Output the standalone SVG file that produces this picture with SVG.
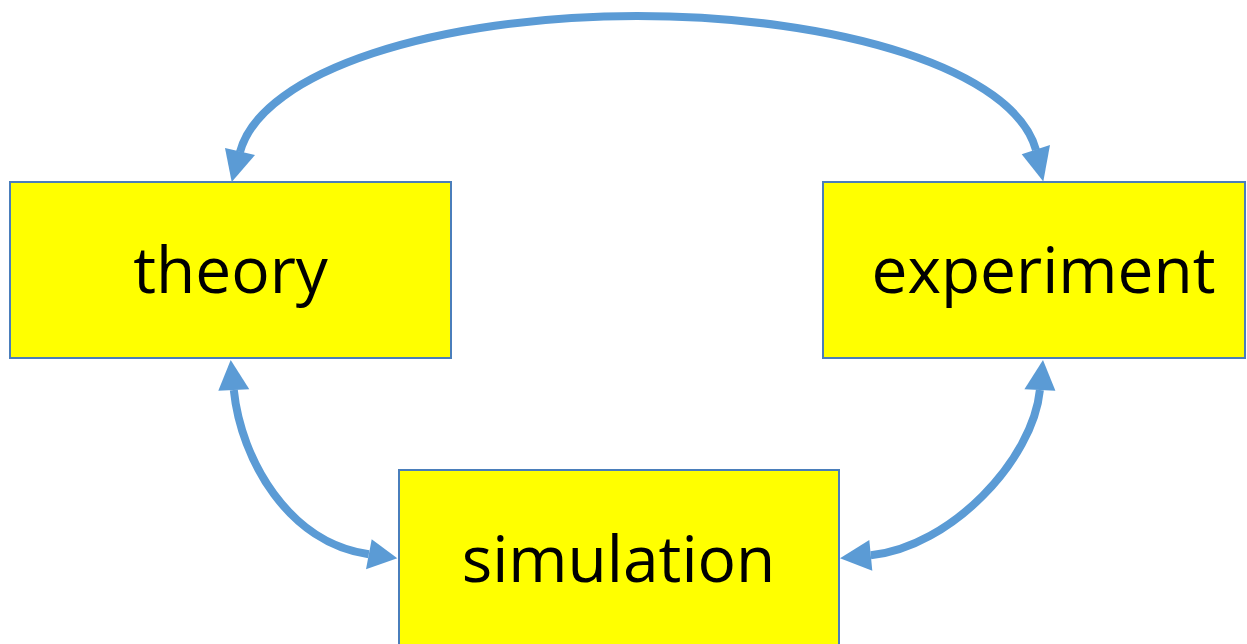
<svg xmlns="http://www.w3.org/2000/svg" width="1247" height="644" viewBox="0 0 1247 644">
  <style>
    .box { fill: #ffff00; stroke: #4a7ebb; stroke-width: 2; }
    .label { font-family: "Open Sans", "Noto Sans", sans-serif; font-size: 64px; fill: #000000; text-anchor: middle; }
    .arc { fill: none; stroke: #5b9bd5; stroke-width: 8; }
    .head { fill: #5b9bd5; stroke: none; }
  </style>
  <rect width="1247" height="644" fill="#ffffff"/>

  <g id="theory">
    <rect class="box" x="10" y="182" width="441" height="176"/>
    <text class="label" x="230.5" y="293">theory</text>
  </g>

  <g id="experiment">
    <rect class="box" x="823" y="182" width="422" height="176"/>
    <text class="label" x="1043.5" y="293">experiment</text>
  </g>

  <g id="simulation">
    <rect class="box" x="399" y="470" width="440" height="190"/>
    <text class="label" x="618.5" y="582">simulation</text>
  </g>

  <g id="connectors">
    <!-- theory <-> experiment, over the top -->
    <path class="arc" d="M240,152 C262,70 440,16 637,16 C840,16 1014,70 1036,150"/>
    <polygon class="head" points="231.7,182 225,148 255,155"/>
    <polygon class="head" points="1043.3,181.5 1021.7,154.3 1050,145"/>

    <!-- theory <-> simulation -->
    <path class="arc" d="M233.8,390 C241,460 288.8,543 368.8,554.3"/>
    <polygon class="head" points="230.7,360 218.3,390.7 249.3,389.3"/>
    <polygon class="head" points="397.3,558.3 371.7,539.3 366,569.3"/>

    <!-- experiment <-> simulation -->
    <path class="arc" d="M1039.9,390 C1033,460 950.8,547 870.8,555.3"/>
    <polygon class="head" points="1043,360 1055.4,390.7 1024.4,389.3"/>
    <polygon class="head" points="840,558.3 869.3,540 872.3,570.7"/>
  </g>
</svg>
